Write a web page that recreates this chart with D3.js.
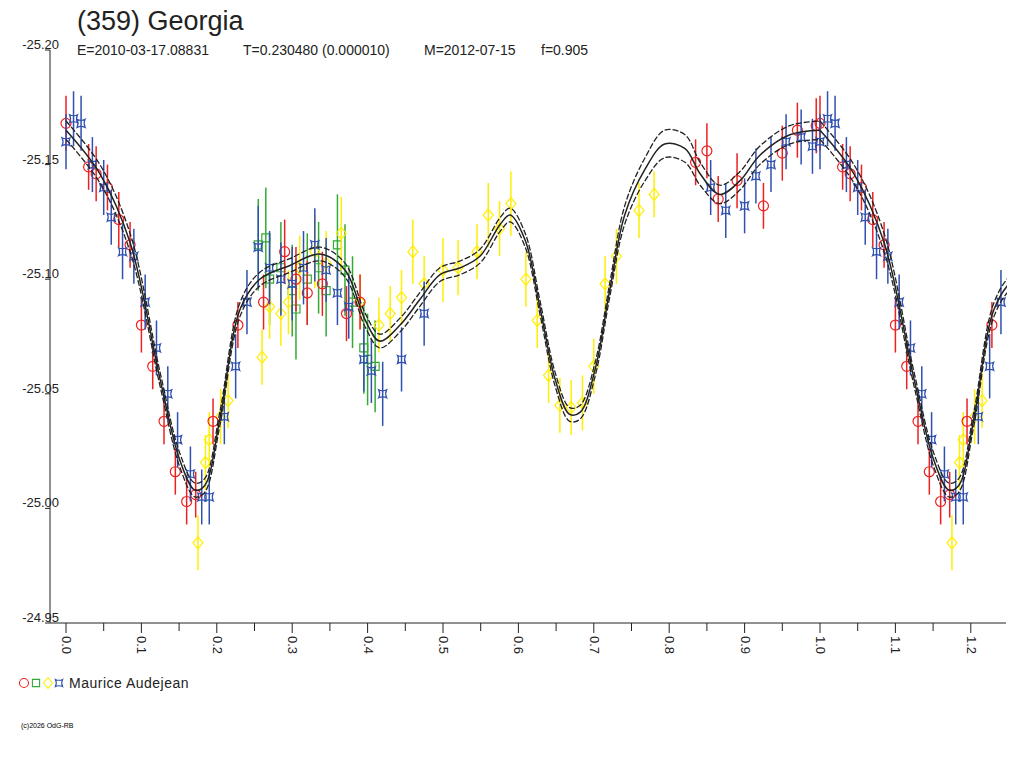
<!DOCTYPE html>
<meta charset="utf-8" />
<style>
  body { margin: 0; background: #fff; }
  svg text { font-family: "Liberation Sans", Arial, sans-serif; fill: #222; }
</style>
<script src="https://d3js.org/d3.v7.min.js"></script>
<svg id="chart" width="1024" height="768"></svg>
<script>
  // model curve over one period: phase, magnitude, half-width of the uncertainty band
  const curvePhase = [0, 0.045, 0.085, 0.125, 0.151, 0.171, 0.184, 0.204, 0.231, 0.257, 0.297, 0.337, 0.37, 0.397, 0.416,
    0.443, 0.469, 0.496, 0.523, 0.549, 0.576, 0.589, 0.609, 0.629, 0.649, 0.668, 0.682, 0.702, 0.721, 0.741, 0.768,
    0.794, 0.821, 0.841, 0.867, 0.894, 0.92, 0.96, 1.0];
  const curveMag = [-25.165, -25.146, -25.116, -25.056, -25.021, -25.008, -25.010, -25.039, -25.087, -25.100, -25.106,
    -25.111, -25.104, -25.082, -25.073, -25.080, -25.091, -25.102, -25.105, -25.110, -25.124, -25.128, -25.117, -25.087,
    -25.056, -25.041, -25.042, -25.061, -25.095, -25.128, -25.148, -25.159, -25.157, -25.146, -25.137, -25.143, -25.154,
    -25.163, -25.165];
  const curveBand = [0.004, 0.004, 0.004, 0.003, 0.003, 0.003, 0.003, 0.003, 0.003, 0.003, 0.003, 0.003, 0.003, 0.003,
    0.003, 0.003, 0.003, 0.003, 0.003, 0.003, 0.003, 0.003, 0.003, 0.003, 0.003, 0.003, 0.003, 0.003, 0.003, 0.004,
    0.005, 0.006, 0.006, 0.005, 0.004, 0.004, 0.004, 0.004, 0.004];

  // observations [phase, mag, error] per session
  const redObs = [[0.0, -25.168, 0.012], [0.03, -25.149, 0.01], [0.04, -25.146, 0.012], [0.055, -25.140, 0.01],
    [0.07, -25.126, 0.012], [0.085, -25.115, 0.01], [0.10, -25.080, 0.012], [0.115, -25.062, 0.01],
    [0.13, -25.038, 0.01], [0.145, -25.016, 0.01], [0.16, -25.003, 0.01], [0.172, -25.006, 0.01],
    [0.195, -25.038, 0.01], [0.228, -25.080, 0.01], [0.262, -25.090, 0.012], [0.29, -25.112, 0.014],
    [0.305, -25.100, 0.014], [0.32, -25.094, 0.014], [0.34, -25.098, 0.014], [0.372, -25.085, 0.012],
    [0.39, -25.090, 0.012], [0.835, -25.151, 0.01], [0.85, -25.156, 0.012], [0.865, -25.135, 0.01],
    [0.89, -25.143, 0.012], [0.925, -25.132, 0.01], [0.95, -25.155, 0.012], [0.97, -25.165, 0.012],
    [0.995, -25.167, 0.012]];
  const greenObs = [[0.255, -25.115, 0.02], [0.265, -25.118, 0.022], [0.27, -25.100, 0.02], [0.285, -25.105, 0.02],
    [0.3, -25.095, 0.02], [0.305, -25.087, 0.022], [0.32, -25.100, 0.02], [0.335, -25.105, 0.02], [0.345, -25.095, 0.02],
    [0.36, -25.115, 0.022], [0.37, -25.104, 0.02], [0.38, -25.090, 0.02], [0.395, -25.070, 0.02], [0.4, -25.065, 0.02],
    [0.41, -25.062, 0.02]];
  const yellowObs = [[0.175, -24.985, 0.012], [0.185, -25.020, 0.012], [0.19, -25.030, 0.012], [0.205, -25.040, 0.012],
    [0.215, -25.047, 0.012], [0.26, -25.066, 0.012], [0.27, -25.088, 0.014], [0.285, -25.085, 0.014],
    [0.295, -25.090, 0.014], [0.31, -25.105, 0.014], [0.33, -25.112, 0.016], [0.345, -25.107, 0.014],
    [0.365, -25.120, 0.016], [0.39, -25.090, 0.012], [0.415, -25.080, 0.012], [0.43, -25.085, 0.012],
    [0.445, -25.092, 0.012], [0.46, -25.112, 0.014], [0.475, -25.098, 0.012], [0.5, -25.104, 0.014],
    [0.52, -25.105, 0.012], [0.545, -25.112, 0.012], [0.56, -25.128, 0.014], [0.575, -25.122, 0.012],
    [0.59, -25.133, 0.014], [0.61, -25.100, 0.012], [0.625, -25.082, 0.012], [0.64, -25.058, 0.012],
    [0.655, -25.045, 0.012], [0.67, -25.044, 0.012], [0.685, -25.046, 0.012], [0.7, -25.062, 0.012],
    [0.715, -25.098, 0.012], [0.73, -25.110, 0.012], [0.76, -25.130, 0.012], [0.78, -25.137, 0.01]];
  const blueObs = [[0.0, -25.160, 0.012], [0.01, -25.170, 0.012], [0.02, -25.168, 0.012], [0.035, -25.150, 0.012],
    [0.05, -25.140, 0.012], [0.06, -25.127, 0.012], [0.075, -25.112, 0.012], [0.09, -25.110, 0.012],
    [0.105, -25.090, 0.012], [0.12, -25.070, 0.012], [0.135, -25.050, 0.012], [0.148, -25.030, 0.012],
    [0.165, -25.015, 0.012], [0.18, -25.005, 0.012], [0.19, -25.005, 0.012], [0.21, -25.040, 0.012],
    [0.225, -25.062, 0.014], [0.24, -25.090, 0.014], [0.255, -25.114, 0.018], [0.27, -25.105, 0.016],
    [0.285, -25.100, 0.016], [0.3, -25.098, 0.016], [0.315, -25.105, 0.016], [0.33, -25.115, 0.016],
    [0.345, -25.104, 0.014], [0.36, -25.094, 0.014], [0.375, -25.088, 0.014], [0.395, -25.065, 0.014],
    [0.405, -25.060, 0.014], [0.42, -25.050, 0.014], [0.445, -25.065, 0.014], [0.475, -25.085, 0.014],
    [0.855, -25.140, 0.012], [0.875, -25.130, 0.012], [0.9, -25.132, 0.012], [0.915, -25.145, 0.012],
    [0.935, -25.150, 0.012], [0.955, -25.160, 0.012], [0.975, -25.162, 0.012], [0.99, -25.158, 0.012]];

  const xTicks = d3.range(0, 1.25, 0.05);
  const yTicks = [-25.20, -25.15, -25.10, -25.05, -25.00, -24.95];

  const svg = d3.select('#chart');
  const x = d3.scaleLinear().domain([0, 1]).range([66, 820]);
  const y = d3.scaleLinear().domain([-25.20, -24.95]).range([50, 623]);
  const xMax = 1.246;

  // titles
  svg.append('text').attr('x', 77).attr('y', 30).attr('font-size', 27).text('(359) Georgia');
  const sub = ['E=2010-03-17.08831', 'T=0.230480 (0.000010)', 'M=2012-07-15', 'f=0.905'];
  const subX = [77, 243, 424, 541];
  sub.forEach((s, i) => svg.append('text').attr('x', subX[i]).attr('y', 55).attr('font-size', 14).text(s));

  // axes
  svg.append('line').attr('x1', 50).attr('x2', 50).attr('y1', 50).attr('y2', 623).attr('stroke', '#222');
  svg.append('line').attr('x1', 50).attr('x2', 1006).attr('y1', 623).attr('y2', 623).attr('stroke', '#222');
  yTicks.forEach(t => {
    svg.append('line').attr('x1', 45).attr('x2', 50).attr('y1', y(t)).attr('y2', y(t)).attr('stroke', '#222');
    svg.append('text').attr('x', 59).attr('y', y(t) - 1).attr('text-anchor', 'end').attr('font-size', 13).text(t.toFixed(2));
  });
  xTicks.forEach((t, i) => {
    const major = i % 2 === 0;
    svg.append('line').attr('x1', x(t)).attr('x2', x(t)).attr('y1', 623).attr('y2', major ? 633 : 631).attr('stroke', '#222');
    if (major) svg.append('text').attr('transform', `translate(${x(t) - 4},636) rotate(90)`)
      .attr('font-size', 13).text(t.toFixed(1));
  });

  const plot = svg.append('g');
  plot.append('clipPath').attr('id', 'clip').append('rect').attr('x', 50).attr('y', 40).attr('width', 957).attr('height', 583);
  const g = plot.append('g').attr('clip-path', 'url(#clip)');

  // observations drawn at phase and phase+1
  const symbols = {
    circle: 'M5,0A5,5 0 1,1 -5,0A5,5 0 1,1 5,0Z',
    square: 'M-4,-4H4V4H-4Z',
    diamond: 'M0,-6L5,0L0,6L-5,0Z',
    star: 'M-4,-4Q0,-2 4,-4Q2,0 4,4Q0,2 -4,4Q-2,0 -4,-4Z'
  };
  const series = [
    { data: greenObs, color: '#33aa33', sym: symbols.square },
    { data: yellowObs, color: '#ffee00', sym: symbols.diamond },
    { data: redObs, color: '#ee2020', sym: symbols.circle },
    { data: blueObs, color: '#3050b0', sym: symbols.star }
  ];
  series.forEach(s => {
    const pts = s.data.flatMap(d => [d, [d[0] + 1, d[1], d[2]]]).filter(d => d[0] <= xMax);
    g.selectAll(null).data(pts).enter().append('line')
      .attr('x1', d => x(d[0])).attr('x2', d => x(d[0]))
      .attr('y1', d => y(d[1] - d[2])).attr('y2', d => y(d[1] + d[2]))
      .attr('stroke', s.color).attr('stroke-width', 1.5);
    g.selectAll(null).data(pts).enter().append('path')
      .attr('d', s.sym).attr('transform', d => `translate(${x(d[0])},${y(d[1])})`)
      .attr('fill', 'none').attr('stroke', s.color).attr('stroke-width', 1.2);
  });

  // model curve with band
  const line = d3.line().curve(d3.curveCatmullRom).x(d => x(d[0])).y(d => y(d[1]));
  [0, 1].forEach(shift => {
    const base = curvePhase.map((p, i) => [p + shift, curveMag[i]]);
    g.append('path').attr('d', line(base)).attr('fill', 'none').attr('stroke', '#222').attr('stroke-width', 1.5);
    [-1, 1].forEach(sgn => {
      const band = curvePhase.map((p, i) => [p + shift, curveMag[i] + sgn * curveBand[i]]);
      g.append('path').attr('d', line(band)).attr('fill', 'none').attr('stroke', '#222')
        .attr('stroke-width', 1.3).attr('stroke-dasharray', '6,2');
    });
  });

  // legend
  const legendSyms = [[symbols.circle, '#ee2020', 24], [symbols.square, '#33aa33', 36], [symbols.diamond, '#ffee00', 48], [symbols.star, '#3050b0', 59]];
  legendSyms.forEach(([sym, c, lx]) => {
    svg.append('path').attr('d', sym).attr('transform', `translate(${lx},683) scale(0.9)`)
      .attr('fill', 'none').attr('stroke', c).attr('stroke-width', 1.2);
  });
  svg.append('text').attr('x', 69).attr('y', 688).attr('font-size', 14).attr('letter-spacing', 0.5).text('Maurice Audejean');
  svg.append('text').attr('x', 21).attr('y', 728).attr('font-size', 7).style('fill', '#000').text('(c)2026 OdG-RB');
</script>
